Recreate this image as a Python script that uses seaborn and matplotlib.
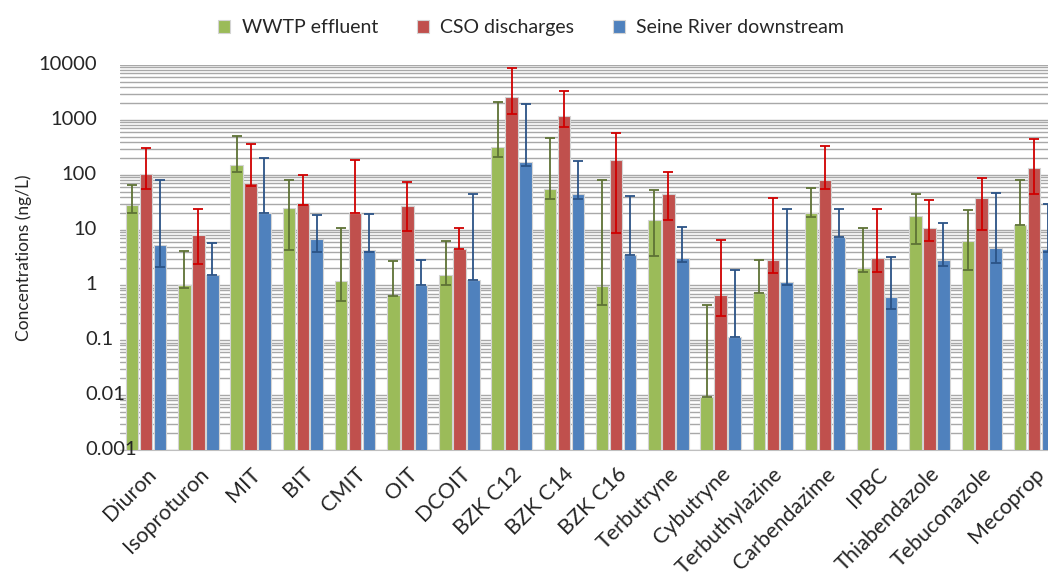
import matplotlib
matplotlib.use("Agg")
import matplotlib.pyplot as plt
import matplotlib.ticker as mticker
import seaborn as sns
import pandas as pd
import numpy as np

# compounds on the x axis
compounds = ["Diuron", "Isoproturon", "MIT", "BIT", "CMIT", "OIT", "DCOIT",
             "BZK C12", "BZK C14", "BZK C16", "Terbutryne", "Cybutryne",
             "Terbuthylazine", "Carbendazime", "IPBC", "Thiabendazole",
             "Tebuconazole", "Mecoprop"]
series = ["WWTP effluent", "CSO discharges", "Seine River downstream"]

# concentrations (ng/L), with error bar bounds
wwtp = [28, 1.0, 152, 25, 1.16, 0.66, 1.53, 329, 56, 0.97, 15, 0.0091,
        0.72, 20, 2.0, 18.2, 6.2, 12.3]
wwtp_lo = [20, 0.89, 113, 4.3, 0.52, 0.63, 1.0, 216, 36.6, 0.43, 3.4, 0.0091,
           0.72, 17, 1.74, 5.5, 1.9, 12.3]
wwtp_hi = [66, 4.1, 515, 82, 10.7, 2.7, 6.3, 2090, 472, 82, 53, 0.44,
           2.9, 58, 11, 46, 23, 80]

cso = [103, 8.0, 71, 31.5, 20.7, 27, 4.6, 2630, 1170, 188, 45, 0.66,
       2.83, 82, 3.08, 10.7, 38.7, 134]
cso_lo = [56, 2.4, 62, 28, 20.7, 9.6, 4.6, 1260, 740, 8.9, 15.4, 0.27,
          1.67, 56.5, 1.74, 6.2, 10.2, 46]
cso_hi = [315, 23.7, 367, 100, 185, 74, 10.8, 8700, 3300, 582, 113, 6.7,
          37.7, 333, 24.4, 35, 88, 447]

seine = [5.3, 1.5, 20.7, 6.9, 4.3, 0.98, 1.24, 175, 45, 3.55, 3.1, 0.114,
         1.12, 7.5, 0.61, 2.9, 4.8, 4.6]
seine_lo = [2.1, 1.5, 20.7, 4.0, 4.0, 0.98, 1.24, 148, 36.6, 3.55, 2.6, 0.114,
            1.0, 7.5, 0.37, 2.26, 2.46, 4.0]
seine_hi = [82, 5.9, 200, 18.7, 19.2, 2.8, 44.5, 1960, 178, 41.5, 11.5, 1.9,
            23.7, 23.7, 3.26, 13.4, 48, 29.6]

# y axis decades shown as labels
y_ticks = [0.001, 0.01, 0.1, 1, 10, 100, 1000, 10000]

bar_colors = ["#9BBB59", "#C0504D", "#4F81BD"]
err_colors = ["#5E7235", "#D00000", "#2B5386"]

values = [wwtp, cso, seine]
lows = [wwtp_lo, cso_lo, seine_lo]
highs = [wwtp_hi, cso_hi, seine_hi]

rows = []
for s, vals in zip(series, values):
    for c, v in zip(compounds, vals):
        rows.append({"compound": c, "series": s, "conc": v})
df = pd.DataFrame(rows)

sns.set_style("white")
plt.rcParams["font.family"] = ["Lato", "DejaVu Sans"]

fig = plt.figure(figsize=(10.48, 5.79), dpi=100)
ax = fig.add_axes([0.1145, 0.2228, 0.897, 0.665])

sns.barplot(data=df, x="compound", y="conc", hue="series", palette=bar_colors,
            saturation=1, errorbar=None, width=0.8, gap=0.1,
            edgecolor="#d4d4d4", linewidth=0.8, ax=ax, legend=True, zorder=3)
ax.set_yscale("log")
ax.set_ylim(0.001, 10000)
ax.set_xlim(-0.5, len(compounds) - 0.5)

# asymmetric error bars at the centres of the bars seaborn drew
bar_groups = list(ax.containers)
for i, cont in enumerate(bar_groups):
    xs = [p.get_x() + p.get_width() / 2 for p in cont.patches]
    v = np.array(values[i])
    yerr = [v - np.array(lows[i]), np.array(highs[i]) - v]
    ax.errorbar(xs, v, yerr=yerr, fmt="none", ecolor=err_colors[i],
                elinewidth=1.3, capsize=3.5, capthick=1.3, zorder=4)

ax.yaxis.set_major_locator(mticker.FixedLocator(y_ticks))
ax.yaxis.set_minor_locator(mticker.LogLocator(base=10, subs=np.arange(2, 10), numticks=20))
ax.yaxis.set_major_formatter(mticker.NullFormatter())
ax.yaxis.set_minor_formatter(mticker.NullFormatter())
ax.grid(True, which="both", axis="y", color="#a8a8a8", linewidth=1.0, zorder=0)
ax.set_axisbelow(True)

# Excel-style y labels: whole numbers right aligned, decimals left aligned
ytrans = ax.get_yaxis_transform()
for t in y_ticks:
    if t >= 1:
        ax.text(-0.0245, t, "{:g}".format(t), transform=ytrans, ha="right",
                va="center", fontsize=14.5)
    else:
        ax.text(-0.037, t, "{:g}".format(t), transform=ytrans, ha="left",
                va="center", fontsize=14.5)

for side in ["top", "right", "left"]:
    ax.spines[side].set_visible(False)
ax.spines["bottom"].set_color("#bfbfbf")
ax.tick_params(axis="both", which="both", length=0)
ax.tick_params(axis="x", labelsize=15.5, pad=10)
plt.setp(ax.get_xticklabels(), rotation=45, ha="right", rotation_mode="anchor")

ax.set_xlabel("")
ax.set_ylabel("Concentrations (ng/L)", fontsize=12.5, labelpad=60)

handles, labels = ax.get_legend_handles_labels()
ax.get_legend().remove()
fig.legend(handles, labels, loc="upper center", bbox_to_anchor=(0.507, 0.997),
           ncol=3, frameon=False, fontsize=14, handlelength=0.6,
           handleheight=0.6, handletextpad=0.6, columnspacing=2.0)

fig.savefig("out.png", dpi=100)
